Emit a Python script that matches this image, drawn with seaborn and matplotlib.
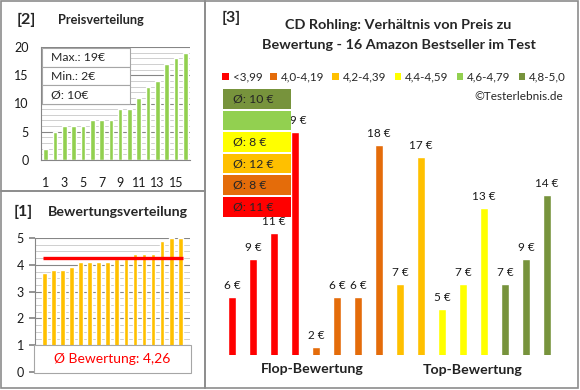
import numpy as np
import pandas as pd
import matplotlib
matplotlib.use("Agg")
import matplotlib.pyplot as plt
import seaborn as sns
from matplotlib.patches import Rectangle, Patch

# --- DATA ---
# products ordered by rating (same order in panel [1] and [3])
ratings = [3.7, 3.8, 3.8, 3.9, 4.1, 4.1, 4.1, 4.1, 4.2, 4.2, 4.4, 4.4, 4.4, 4.9, 5.0, 5.0]
prices = [6, 9, 11, 19, 2, 6, 6, 18, 7, 17, 5, 7, 13, 7, 9, 14]

bin_labels = ['<3,99', '4,0-4,19', '4,2-4,39', '4,4-4,59', '4,6-4,79', '4,8-5,0']
bin_edges = [0, 3.995, 4.195, 4.395, 4.595, 4.795, 5.01]
bin_colors = ['#FF0000', '#E46C0A', '#FFC000', '#FFFF00', '#92D050', '#77933C']

title_3 = ['CD Rohling: Verhältnis von Preis zu', 'Bewertung - 16 Amazon Bestseller im Test']

W, H = 580, 390
GRID_MAJOR = '#868686'
GRID_MINOR = '#C8C8C8'
BORDER = '#8C8C8C'

sns.set_theme(style='white')
plt.rcParams['font.family'] = ['Lato', 'DejaVu Sans']

fig = plt.figure(figsize=(W / 100, H / 100), dpi=100)
fig.patch.set_facecolor('white')


def px_rect(x0, y0, x1, y1):
    # pixel box (top-left origin) -> figure fraction [l, b, w, h]
    return [x0 / W, 1 - y1 / H, (x1 - x0) / W, (y1 - y0) / H]


def fx(x):
    return x / W


def fy(y):
    return 1 - y / H


# --- panel borders ---
for (x0, y0, x1, y1) in [(1, 1, 205, 191), (1, 191, 205, 388), (205, 1, 578, 388)]:
    fig.patches.append(Rectangle((fx(x0), fy(y1)), (x1 - x0) / W, (y1 - y0) / H,
                                 transform=fig.transFigure, fill=False,
                                 edgecolor=BORDER, linewidth=1.2))

df = pd.DataFrame({'rating': ratings, 'price': prices})
df['idx'] = range(len(df))
df['bin'] = pd.cut(df['rating'], bins=bin_edges, labels=bin_labels)
df['color'] = df['bin'].map(dict(zip(bin_labels, bin_colors))).astype(str)

# ===== [2] Preisverteilung =====
ax2 = fig.add_axes(px_rect(41, 47, 190, 160))
ax2.set_axisbelow(True)
sorted_prices = sorted(prices)
sns.barplot(x=list(range(1, len(sorted_prices) + 1)), y=sorted_prices, color='#92D050',
            width=0.5, saturation=1, ax=ax2)
ax2.set_ylim(0, 20)
ax2.set_yticks(range(0, 21, 5))
ax2.set_yticks(range(0, 21, 1), minor=True)
ax2.grid(axis='y', which='major', color=GRID_MAJOR, linewidth=0.8)
ax2.grid(axis='y', which='minor', color=GRID_MINOR, linewidth=0.6)
ax2.set_xticks(range(0, 16, 2))
ax2.set_xticklabels([str(i) for i in range(1, 17, 2)])
ax2.tick_params(axis='both', which='both', length=0, labelsize=9, colors='#1a1a1a')
ax2.tick_params(axis='y', pad=9)
ax2.tick_params(axis='x', pad=12)
for s in ['top', 'right']:
    ax2.spines[s].set_visible(False)
for s in ['left', 'bottom']:
    ax2.spines[s].set_color(GRID_MAJOR)
    ax2.spines[s].set_linewidth(0.8)
ax2.set_xlabel('')
ax2.set_ylabel('')

fig.text(fx(17), fy(20), '[2]', fontsize=11.5, fontweight='bold', va='center')
fig.text(fx(58), fy(20), 'Preisverteilung', fontsize=9.2, fontweight='bold', va='center')

# info box
info = [f'Max.: {max(prices)}€', f'Min.: {min(prices)}€', f'Ø: {round(np.mean(prices))}€']
box_top, row_h = 48, 18.7
for i, txt in enumerate(info):
    y0 = box_top + i * row_h
    fig.patches.append(Rectangle((fx(42), fy(y0 + row_h)), 88 / W, row_h / H,
                                 transform=fig.transFigure, facecolor='white',
                                 edgecolor='#A6A6A6', linewidth=0.8, zorder=5))
    fig.text(fx(51), fy(y0 + row_h / 2), txt, fontsize=8.8, va='center', zorder=6)

# ===== [1] Bewertungsverteilung =====
ax1 = fig.add_axes(px_rect(35, 238, 190, 372))
ax1.set_axisbelow(True)
sns.barplot(x=df['idx'], y=df['rating'], color='#FFC000', width=0.52, saturation=1, ax=ax1)
ax1.set_ylim(0, 5)
ax1.set_yticks(range(0, 6))
ax1.set_yticks(np.arange(0, 5.01, 0.25), minor=True)
ax1.grid(axis='y', which='major', color=GRID_MAJOR, linewidth=0.8)
ax1.grid(axis='y', which='minor', color=GRID_MINOR, linewidth=0.6)
ax1.set_xticks([])
ax1.tick_params(axis='y', which='major', length=4, color=GRID_MAJOR, labelsize=9,
                pad=4, left=True, colors='#1a1a1a')
ax1.tick_params(axis='y', which='minor', length=0)
for s in ['top', 'right', 'bottom']:
    ax1.spines[s].set_visible(False)
ax1.spines['left'].set_color(GRID_MAJOR)
ax1.spines['left'].set_linewidth(0.8)
ax1.set_xlabel('')
ax1.set_ylabel('')
mean_rating = np.mean(ratings)
ax1.hlines(mean_rating, -0.1, len(ratings) - 0.7, color='#FF0000', linewidth=2.4, zorder=4)

fig.text(fx(14), fy(212), '[1]', fontsize=11.5, fontweight='bold', va='center')
fig.text(fx(48), fy(212), 'Bewertungsverteilung', fontsize=10.2, fontweight='bold', va='center')

fig.patches.append(Rectangle((fx(34), fy(373)), 157 / W, 28 / H, transform=fig.transFigure,
                             facecolor='white', edgecolor='#A6A6A6', linewidth=0.8, zorder=5))
fig.text(fx(112), fy(359), 'Ø Bewertung: ' + f'{mean_rating:.2f}'.replace('.', ','),
         fontsize=10, color='#FF0000', ha='center', va='center', zorder=6)

# ===== [3] Preis vs Bewertung =====
ax3 = fig.add_axes(px_rect(221.5, 90, 557.5, 355))
sns.barplot(data=df, x='idx', y='price', hue='idx', palette=list(df['color']),
            width=0.38, saturation=1, legend=False, ax=ax3, zorder=3)
ax3.set_ylim(1.4, 1.4 + 265 / 12.67)
ax3.set_xlim(-0.5, len(df) - 0.5)
ax3.axis('off')
for i, p in enumerate(prices):
    ax3.annotate(f'{p} €', (i, p), xytext=(0, 6), textcoords='offset pixels',
                 ha='center', va='bottom', fontsize=8.5, color='#1a1a1a', zorder=4)

fig.text(fx(222), fy(18), '[3]', fontsize=11.5, fontweight='bold', va='center')
fig.text(fx(398), fy(25), title_3[0], fontsize=10.4, fontweight='bold', ha='center', va='center')
fig.text(fx(399), fy(45), title_3[1], fontsize=10.4, fontweight='bold', ha='center', va='center')

handles = [Patch(facecolor=c, edgecolor='none') for c in bin_colors]
fig.legend(handles, bin_labels, loc='center', bbox_to_anchor=(fx(394), fy(77)), ncol=6,
           frameon=False, fontsize=8.4, handlelength=0.55, handleheight=0.55,
           handletextpad=0.35, columnspacing=0.7, borderaxespad=0)

fig.text(fx(563), fy(97), '©Testerlebnis.de', fontsize=8.5, ha='right', va='center')

# average boxes per rating group (top: best rating)
avg_top, avg_pitch, avg_h = 89, 21.6, 19.5
for k, (lab, col) in enumerate(zip(bin_labels[::-1], bin_colors[::-1])):
    y0 = avg_top + k * avg_pitch
    fig.patches.append(Rectangle((fx(223), fy(y0 + avg_h)), 68 / W, avg_h / H,
                                 transform=fig.transFigure, facecolor=col,
                                 edgecolor='none', zorder=5))
    grp = df.loc[df['bin'] == lab, 'price']
    if len(grp):
        fig.text(fx(233), fy(y0 + avg_h / 2), f'Ø: {round(grp.mean())} €', fontsize=8.8,
                 va='center', zorder=6)

fig.text(fx(312), fy(369), 'Flop-Bewertung', fontsize=10.2, fontweight='bold',
         color='#222222', ha='center', va='center')
fig.text(fx(473), fy(370), 'Top-Bewertung', fontsize=10.2, fontweight='bold',
         color='#222222', ha='center', va='center')

fig.savefig('out.png', dpi=100, facecolor='white')
